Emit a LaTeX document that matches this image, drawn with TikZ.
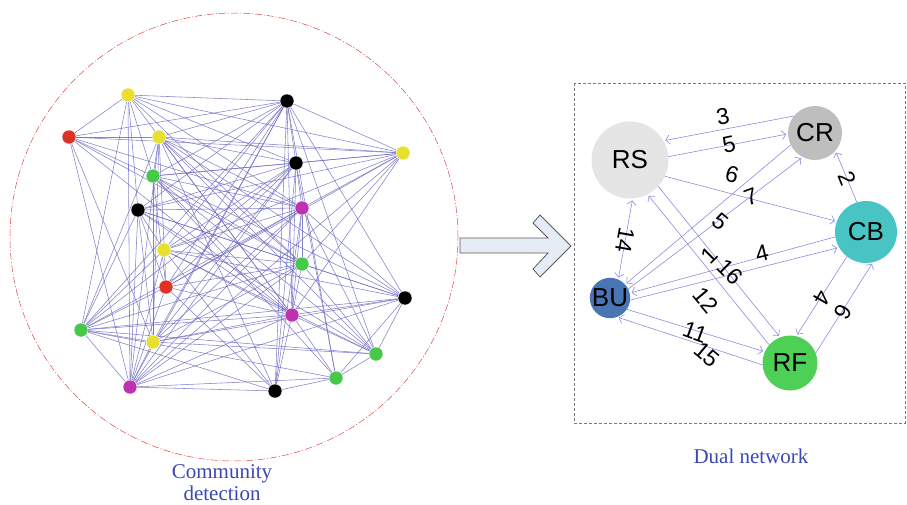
\documentclass[tikz,border=0pt]{standalone}
\usepackage{fontspec}
\setmainfont{Liberation Serif}
\newfontfamily\sansf{Liberation Sans}
\usetikzlibrary{arrows.meta,backgrounds}
\definecolor{gedgecol}{RGB}{108,108,196}
\definecolor{dedgecol}{RGB}{140,140,222}
\definecolor{cyel}{RGB}{232,224,48}
\definecolor{cred}{RGB}{222,50,36}
\definecolor{cgrn}{RGB}{72,200,72}
\definecolor{cmag}{RGB}{190,50,175}
\definecolor{capcol}{RGB}{58,72,180}
\definecolor{crs}{RGB}{228,229,228}
\definecolor{ccr}{RGB}{190,190,190}
\definecolor{ccb}{RGB}{72,196,196}
\definecolor{cbu}{RGB}{74,117,181}
\definecolor{crf}{RGB}{78,207,85}
\definecolor{arrfill}{RGB}{230,236,246}
\definecolor{circcol}{RGB}{222,70,70}
\definecolor{arredge}{RGB}{90,90,90}
\definecolor{framecol}{RGB}{120,120,120}
\tikzset{
  gnode/.style={circle,inner sep=0pt,outer sep=0pt,minimum size=14pt,draw=white,line width=0.4pt},
  gedge/.style={draw=gedgecol,line width=0.55pt,opacity=0.85},
  dnode/.style={circle,inner sep=0pt,outer sep=0pt,font=\sansf\fontsize{26}{26}\selectfont},
  darr/.style={draw=dedgecol,line width=0.6pt,-{Straight Barb[length=4pt,width=9pt]},shorten >=2pt},
  elab/.style={inner sep=0pt,font=\sansf\fontsize{23}{23}\selectfont},
  caption/.style={inner sep=0pt,text=capcol,font=\fontsize{21}{24}\selectfont}
}
\begin{document}
\begin{tikzpicture}[x=1pt,y=-1pt]
\useasboundingbox (0,0) rectangle (907,504);
% community circle
\node[circle,minimum size=448pt,inner sep=0pt,draw=circcol,line width=0.5pt,dash pattern=on 7pt off 2pt on 1pt off 2pt] (comm) at (234,237) {};
% left graph nodes
\node[gnode,fill=cyel] (Y1) at (128,95) {};
\node[gnode,fill=black] (K1) at (287,101) {};
\node[gnode,fill=cred] (R1) at (69,137) {};
\node[gnode,fill=cyel] (Y2) at (159,137) {};
\node[gnode,fill=cyel] (Y3) at (403,153) {};
\node[gnode,fill=black] (K2) at (296,163) {};
\node[gnode,fill=cgrn] (G1) at (153,176) {};
\node[gnode,fill=black] (K3) at (138,210) {};
\node[gnode,fill=cmag] (M1) at (302,208) {};
\node[gnode,fill=cyel] (Y4) at (164,250) {};
\node[gnode,fill=cgrn] (G2) at (302,264) {};
\node[gnode,fill=cred] (R2) at (166,287) {};
\node[gnode,fill=black] (K4) at (405,298) {};
\node[gnode,fill=cmag] (M2) at (292,315) {};
\node[gnode,fill=cgrn] (G3) at (81,330) {};
\node[gnode,fill=cyel] (Y5) at (153,342) {};
\node[gnode,fill=cgrn] (G4) at (376,354) {};
\node[gnode,fill=cgrn] (G5) at (336,378) {};
\node[gnode,fill=cmag] (M3) at (130,387) {};
\node[gnode,fill=black] (K5) at (275,391) {};
\begin{pgfonlayer}{background}
\foreach \a/\b in {
 Y1/R1,Y1/K3,Y1/M3,Y1/G3,Y1/G1,
 R1/Y2,R1/G1,R1/M3,R1/Y5,
 Y2/G1,Y2/Y5,Y2/M3,Y2/G3,Y2/R2,
 G1/Y5,G1/R2,
 K3/M3,K3/G3,K3/Y5,K3/R2,K3/Y4,
 Y4/M3,Y4/G3,
 R2/M3,R2/G3,
 G3/M3,G3/Y5,Y5/M3,
 Y1/K1,Y1/K2,Y1/Y3,Y1/M1,Y1/G2,Y1/M2,
 R1/K1,R1/Y3,R1/M1,R1/G2,R1/M2,
 Y2/K1,Y2/Y3,Y2/K2,Y2/M1,Y2/G2,Y2/M2,Y2/K4,Y2/G4,Y2/K5,
 G1/K1,G1/Y3,G1/K2,G1/M1,G1/G2,G1/M2,G1/K4,G1/G4,G1/G5,
 K3/K1,K3/Y3,K3/K2,K3/M1,K3/G2,K3/M2,K3/K4,K3/G4,
 Y4/K1,Y4/Y3,Y4/K2,Y4/M1,Y4/G2,Y4/M2,Y4/K4,Y4/K5,Y4/G4,
 R2/K1,R2/K2,R2/M1,R2/Y3,R2/G2,R2/M2,R2/K5,
 G3/K1,G3/K2,G3/M1,G3/G2,G3/M2,G3/K4,G3/G4,G3/G5,G3/K5,
 Y5/K1,Y5/K2,Y5/M1,Y5/G2,Y5/K4,Y5/M2,Y5/G4,
 M3/K1,M3/K2,M3/M1,M3/G2,M3/Y3,M3/K4,M3/M2,M3/K5,M3/G5,
 K1/Y3,K1/K2,K1/M2,K1/K5,K1/G5,K1/G4,K1/K4,
 K2/Y3,K2/M1,K2/M2,K2/K5,K2/G5,
 Y3/M1,Y3/G2,Y3/M2,
 M1/G2,M1/M2,M1/K5,M1/G4,M1/K4,
 G2/K4,G2/G4,G2/M2,
 K4/M2,K4/G4,K4/G5,
 M2/G4,M2/G5,M2/K5,
 K5/G5,G5/G4}
 \draw[gedge] (\a) -- (\b);
\end{pgfonlayer}
% captions
\node[caption,anchor=base] (cap1) at (222,478) {Community};
\node[caption,anchor=base] (cap2) at (222,500) {detection};
\node[caption,anchor=base] (cap3) at (751,463) {Dual network};
% middle block arrow
\draw[fill=arrfill,draw=arredge,line width=0.8pt,line join=miter]
 (460,238) -- (548,238) -- (533,223) -- (540,215) -- (571,246) -- (540,277) -- (533,269) -- (548,253) -- (460,253) -- cycle;
% dashed frame
\draw[draw=framecol,line width=0.5pt,dash pattern=on 3pt off 2pt] (574,83) rectangle (905,423);
% dual network nodes
\node[dnode,fill=crs,minimum size=77pt] (RS) at (630,160) {RS};
\node[dnode,fill=ccr,minimum size=54pt] (CR) at (815,133) {CR};
\node[dnode,fill=ccb,minimum size=62pt] (CB) at (866,232) {CB};
\node[dnode,fill=cbu,minimum size=38pt] (BU) at (610,298) {BU};
\node[dnode,fill=crf,minimum size=55pt] (RF) at (790,363) {RF};
% dual network edges
\draw[darr] (CR.141) -- (RS.30);
\draw[darr] (RS.5) -- (CR.182);
\draw[darr] (RS.-25) -- (CB.160);
\draw[darr] (CR.206) -- (BU.42);
\draw[darr] (BU.26) -- (CR.243);
\draw[darr] (RS.-43) -- (RF.111);
\draw[darr] (RF.139) -- (RS.-63);
\draw[draw=dedgecol,line width=0.6pt,{Straight Barb[length=4pt,width=9pt]}-{Straight Barb[length=4pt,width=9pt]},shorten >=2pt,shorten <=2pt] (RS.-86) -- (BU.66);
\draw[darr] (BU.-6) -- (CB.210);
\draw[darr] (CB.189) -- (BU.14);
\draw[darr] (CB.107) -- (CR.-41);
\draw[darr] (CB.232) -- (RF.77);
\draw[darr] (RF.21) -- (CB.-77);
\draw[darr] (BU.-34) -- (RF.156);
\draw[darr] (RF.184) -- (BU.-70);
% edge labels
\node[elab,rotate=11] (l3) at (723,117) {3};
\node[elab,rotate=12] (l5a) at (729,145) {5};
\node[elab,rotate=-15] (l6a) at (732,175) {6};
\node[elab,rotate=20] (l7) at (751,197) {7};
\node[elab,rotate=-40] (l5b) at (720,222) {5};
\node[elab,rotate=45] (l1) at (709,255) {1};
\node[elab,rotate=-45] (l16) at (730,272) {16};
\node[elab,rotate=14] (l4a) at (762,253) {4};
\node[elab,rotate=-50] (l12) at (706,300) {12};
\node[elab,rotate=-20] (l11) at (695,332) {11};
\node[elab,rotate=-40] (l15) at (707,355) {15};
\node[elab,rotate=-100] (l14) at (625,240) {14};
\node[elab,rotate=-68] (l2) at (847,178) {2};
\node[elab,rotate=-120] (l4b) at (822,298) {4};
\node[elab,rotate=-120] (l6b) at (843,312) {6};
\end{tikzpicture}
\end{document}
